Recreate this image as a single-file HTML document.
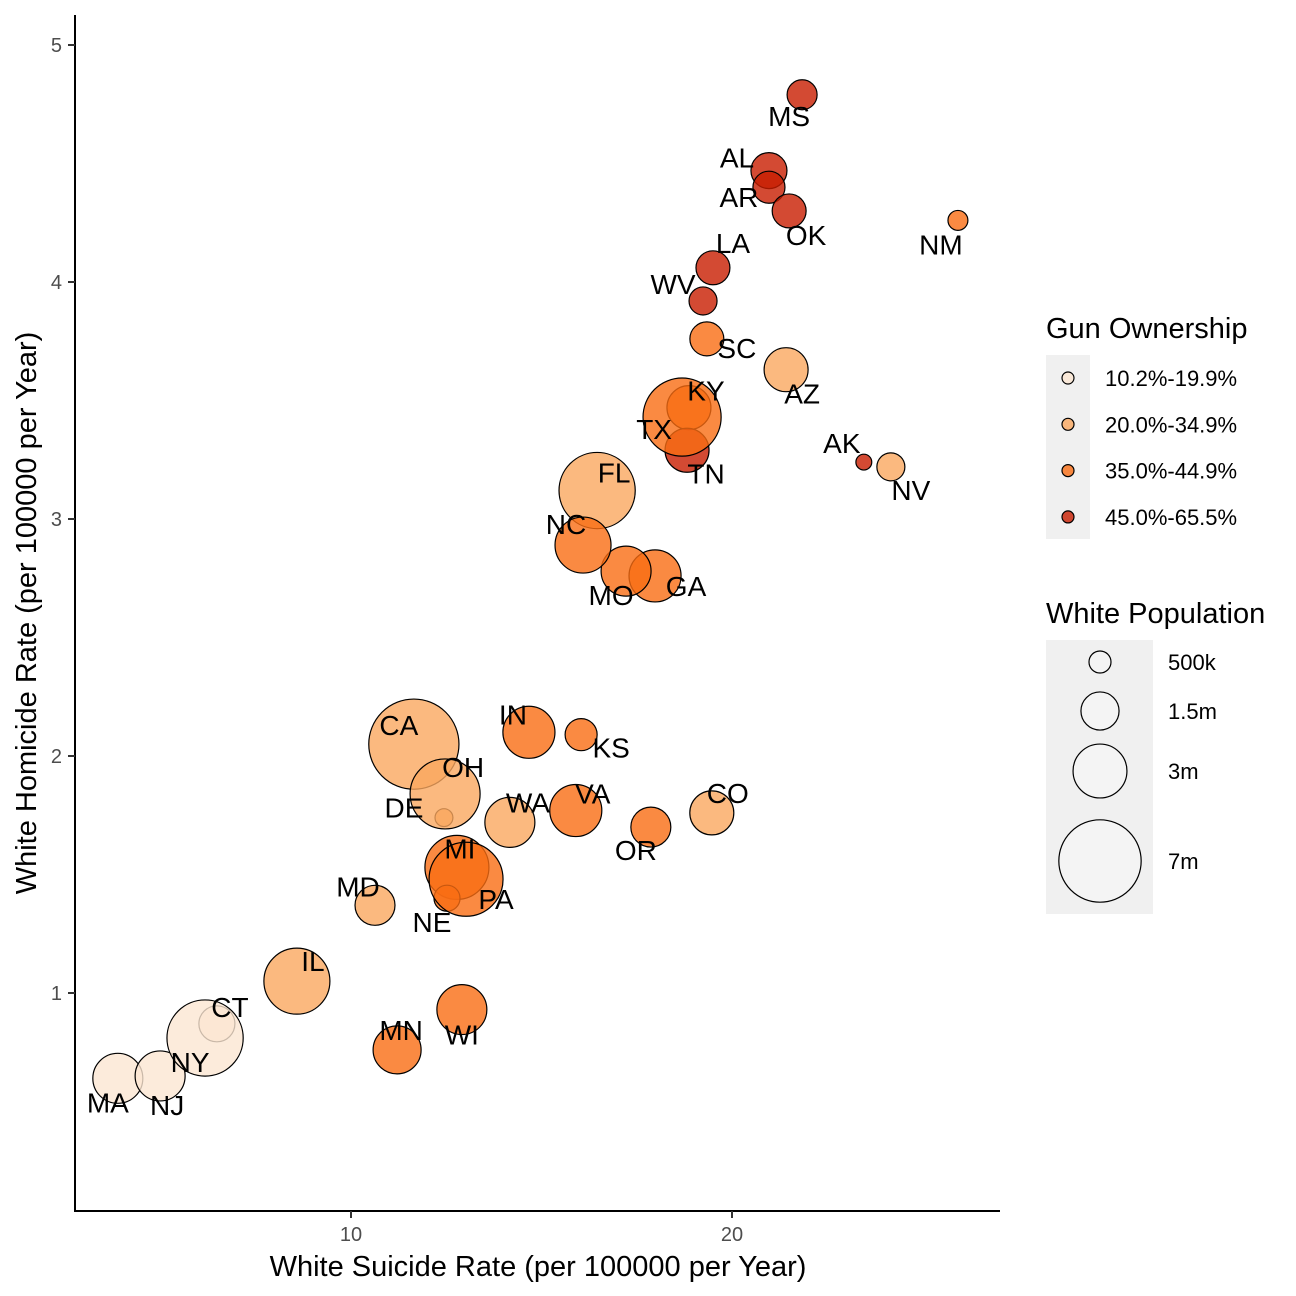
<!DOCTYPE html>
<html><head><meta charset="utf-8"><style>
body{margin:0;background:#fff;}
svg{display:block;font-family:"Liberation Sans",Arial,sans-serif;}
</style></head><body>
<svg id="chart" width="1296" height="1296" viewBox="0 0 1296 1296" xmlns="http://www.w3.org/2000/svg">
<g id="axes"></g>
<g id="points"></g>
<g id="labels"></g>
<g id="legend"></g>
</svg>
<script>
const states=["MS","AL","AR","OK","NM","LA","WV","SC","AZ","KY","TX","TN","AK","NV","FL","NC","MO","GA","IN","KS","CA","OH","DE","WA","VA","OR","CO","MI","PA","NE","MD","IL","WI","MN","CT","NY","NJ","MA"];
const suicideRate=[21.84,20.97,20.97,21.5,25.93,19.5,19.24,19.34,21.42,18.87,18.69,18.82,23.46,24.17,16.46,16.09,17.22,17.98,14.67,16.04,11.65,12.47,12.44,14.17,15.9,17.87,19.47,12.78,13.02,12.52,10.63,8.58,12.91,11.21,6.48,6.17,4.99,3.88];
const homicideRate=[4.79,4.47,4.40,4.30,4.26,4.06,3.92,3.76,3.63,3.47,3.43,3.29,3.24,3.22,3.12,2.89,2.78,2.76,2.10,2.09,2.05,1.84,1.74,1.72,1.77,1.70,1.76,1.53,1.48,1.40,1.37,1.05,0.93,0.76,0.87,0.81,0.65,0.64];
const population=[0.93,1.34,1.06,1.19,0.41,1.19,0.81,1.19,2.0,2.0,6.3,2.0,0.26,0.81,6.0,3.24,2.58,2.8,2.8,1.06,8.4,5.06,0.33,2.58,2.8,1.65,2.0,4.23,5.65,0.7,1.65,4.5,2.58,2.38,1.34,6.0,2.58,2.58];
const gunGroup=[3,3,3,3,2,3,3,2,1,2,2,3,3,1,1,2,2,2,2,2,1,1,1,1,2,2,1,2,2,2,1,1,2,2,0,0,0,0];
const labelOffsets=[[-13,21],[-32,-13],[-30,10],[17,24],[-17,24],[20,-25],[-30,-17],[30,9],[16,24],[17,-17],[-28,12],[19,23],[-22,-19],[20,23],[17,-18],[-17,-21],[-15,24],[31,10],[-16,-18],[30,13],[-15,-19],[18,-27],[-40,-10],[18,-20],[17,-17],[-15,23],[16,-20],[3,-19],[30,20],[-15,24],[-17,-19],[16,-20],[0,25],[4,-20],[13,-17],[-15,24],[7,29],[-10,24]];
const colorLevels=["#FBE6D2","#FAA85F","#F96D13","#C81D00"];
const gunLabels=["10.2%-19.9%","20.0%-34.9%","35.0%-44.9%","45.0%-65.5%"];
const sizeBreaks=[0.5,1.5,3,7];
const sizeLabels=["500k","1.5m","3m","7m"];
const xTicks=[10,20];
const yTicks=[1,2,3,4,5];

const NS="http://www.w3.org/2000/svg";
const xs=v=>351+(v-10)*38.1;
const ys=v=>993-(v-1)*237;
const rs=p=>15.56*Math.sqrt(p);
function mk(tag,attrs,parent){const e=document.createElementNS(NS,tag);for(const k in attrs)e.setAttribute(k,attrs[k]);parent.appendChild(e);return e;}

const axes=document.getElementById('axes');
let l=mk('line',{x1:75,y1:15,x2:75,y2:1211,stroke:'#000','stroke-width':2},axes);


l=mk('line',{x1:74,y1:1211,x2:1000,y2:1211,stroke:'#000','stroke-width':2},axes);


xTicks.forEach(t=>{
  const tk=mk('line',{x1:xs(t),y1:1211,x2:xs(t),y2:1218,stroke:'#333','stroke-width':2},axes);
  
  
  const tx=mk('text',{x:xs(t),y:1241,'text-anchor':'middle','font-size':20,fill:'#4d4d4d'},axes);tx.textContent=t;
  
  
});
yTicks.forEach(t=>{
  const tk=mk('line',{x1:68,y1:ys(t),x2:75,y2:ys(t),stroke:'#333','stroke-width':2},axes);
  
  
  const tx=mk('text',{x:62,y:ys(t)+7,'text-anchor':'end','font-size':20,fill:'#4d4d4d'},axes);tx.textContent=t;
  
  
});
let tt=mk('text',{x:538,y:1276,'text-anchor':'middle','font-size':29},axes);tt.textContent="White Suicide Rate (per 100000 per Year)";


tt=mk('text',{x:0,y:0,'text-anchor':'middle','font-size':29,transform:'translate(36,613) rotate(-90)'},axes);tt.textContent="White Homicide Rate (per 100000 per Year)";



const pts=document.getElementById('points');
const order=states.map((s,i)=>i).sort((a,b)=>states[a]<states[b]?-1:1);
order.forEach(i=>{
  const c=mk('circle',{cx:xs(suicideRate[i]),cy:ys(homicideRate[i]),r:rs(population[i]),fill:colorLevels[gunGroup[i]],'fill-opacity':0.8,stroke:'#000','stroke-width':1.2},pts);
  
  
});
const labs=document.getElementById('labels');
states.forEach((s,i)=>{
  const t=mk('text',{x:xs(suicideRate[i])+labelOffsets[i][0],y:ys(homicideRate[i])+labelOffsets[i][1]+10,'text-anchor':'middle','font-size':28},labs);
  t.textContent=s;
  
  
});

const lg=document.getElementById('legend');
let t=mk('text',{x:1046,y:338,'font-size':29},lg);t.textContent="Gun Ownership";


let bg=mk('rect',{x:1046,y:355,width:44,height:184,fill:'#f0f0f0'},lg);


gunLabels.forEach((g,k)=>{
  const y=378+k*46.3;
  const c=mk('circle',{cx:1068,cy:y,r:6,fill:colorLevels[k],'fill-opacity':0.8,stroke:'#000','stroke-width':1.2},lg);
  
  
  const tx=mk('text',{x:1105,y:y+8,'font-size':22},lg);tx.textContent=g;
  
  
});
t=mk('text',{x:1046,y:623,'font-size':29},lg);t.textContent="White Population";


bg=mk('rect',{x:1046,y:640,width:107,height:274,fill:'#f0f0f0'},lg);


const sizeY=[662,711,771,861];
sizeBreaks.forEach((p,k)=>{
  const c=mk('circle',{cx:1100,cy:sizeY[k],r:rs(p),fill:'#fff','fill-opacity':0.3,stroke:'#000','stroke-width':1.2},lg);
  
  
  const tx=mk('text',{x:1168,y:sizeY[k]+8,'font-size':22},lg);tx.textContent=sizeLabels[k];
  
  
});
</script>
</body></html>
